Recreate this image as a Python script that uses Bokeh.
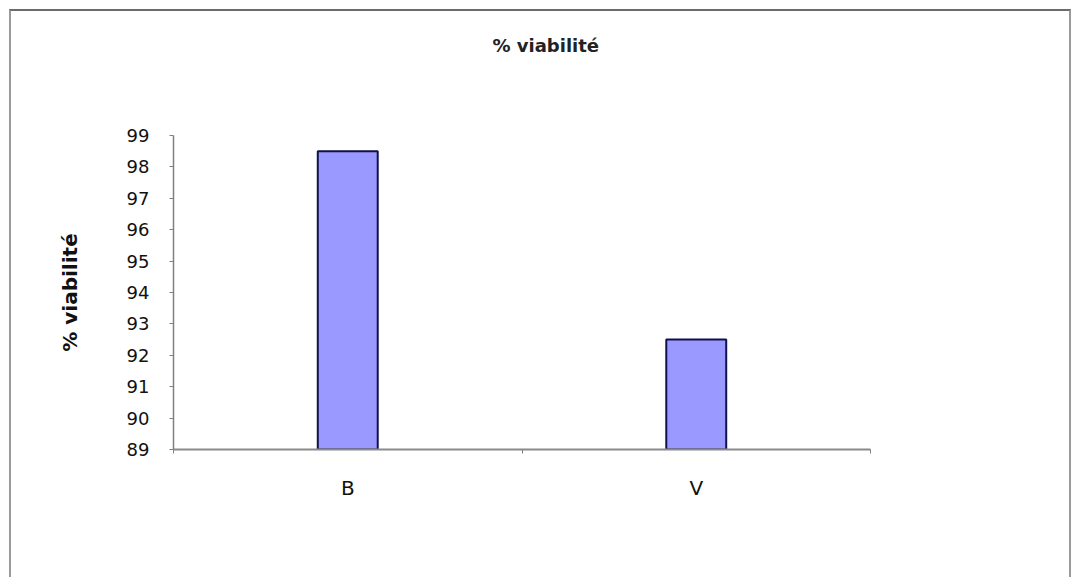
from bokeh.plotting import figure
from bokeh.models import Range1d, FixedTicker, ColumnDataSource, Title
from bokeh.embed import file_html
from bokeh.resources import INLINE

# ---- data ----
categories = ["B", "V"]
viability = [98.5, 92.5]
y_ticks = [89, 90, 91, 92, 93, 94, 95, 96, 97, 98, 99]
title_text = "% viabilité"
y_label = "% viabilité"

FONT = "DejaVu Sans"

xs = [i + 0.5 for i in range(len(categories))]
src = ColumnDataSource(dict(x=xs, top=viability, cat=categories))

p = figure(width=1062, height=568, output_backend="svg", toolbar_location=None, title=None,
           x_range=Range1d(0, len(categories)), y_range=Range1d(y_ticks[0], y_ticks[-1]),
           min_border_left=162, min_border_right=203, min_border_top=124, min_border_bottom=130)

p.styles = {"margin": "9px 0px 0px 9px",
            "border-top": "2px solid #6b6b6b", "border-left": "2px solid #9a9a9a",
            "border-right": "2px solid #9a9a9a"}

p.vbar(x="x", top="top", bottom=y_ticks[0], width=0.172, source=src,
       fill_color="#9999FF", line_color="#10104a", line_width=2)

# spacer (nearest the frame) and then the chart title further up
p.add_layout(Title(text=" ", text_font=FONT, text_font_size="18px", standoff=57), "above")
p.add_layout(Title(text=title_text, align="left", offset=319, standoff=0, text_font=FONT,
                   text_font_size="18px", text_font_style="bold", text_color="#222222"), "above")

p.grid.visible = False
p.outline_line_color = None
p.background_fill_color = "white"
p.border_fill_color = "white"

# x axis
xa = p.xaxis[0]
xa.ticker = FixedTicker(ticks=xs, minor_ticks=list(range(len(categories) + 1)))
xa.major_label_overrides = {x: c for x, c in zip(xs, categories)}
xa.major_tick_line_color = None
xa.minor_tick_line_color = "#808080"
xa.minor_tick_out = 4
xa.minor_tick_in = 0
xa.axis_line_color = "#8a8a8a"
xa.axis_line_width = 2
xa.major_label_text_font = FONT
xa.major_label_text_font_size = "20px"
xa.major_label_text_color = "#111111"
xa.major_label_standoff = 20

# y axis
ya = p.yaxis[0]
ya.ticker = FixedTicker(ticks=y_ticks)
ya.minor_tick_line_color = None
ya.major_tick_out = 4
ya.major_tick_in = 0
ya.major_tick_line_color = "#808080"
ya.axis_line_color = "#808080"
ya.axis_line_width = 1.5
ya.major_label_text_font = FONT
ya.major_label_text_font_size = "18px"
ya.major_label_text_color = "#111111"
ya.major_label_standoff = 20
ya.axis_label = y_label
ya.axis_label_text_font = FONT
ya.axis_label_text_font_size = "20px"
ya.axis_label_text_font_style = "bold"
ya.axis_label_text_color = "#111111"
ya.axis_label_standoff = 42

open("out.html", "w").write(file_html(p, INLINE))
